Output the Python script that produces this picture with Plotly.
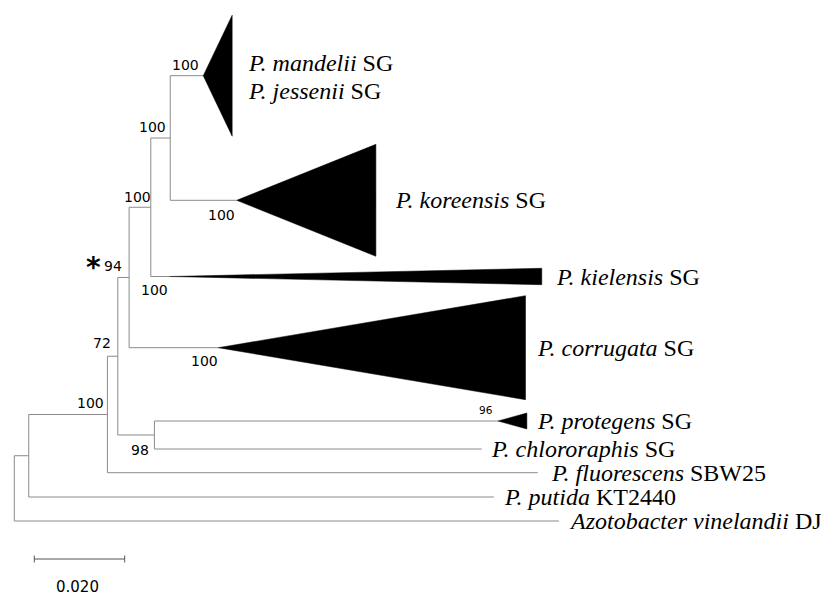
import plotly.graph_objects as go

# ---------------- data ----------------
# tree topology: parent -> child with branch length (substitutions/site)
edge_parent = ["root", "root", "A", "A", "B", "B", "C", "C", "D", "D", "E", "E", "F", "F", "G", "G"]
edge_child = ["A", "azotobacter", "B", "putida", "C", "fluorescens", "E", "D",
              "protegens", "chlororaphis", "F", "corrugata", "G", "kielensis", "mandelii", "koreensis"]
edge_length = [0.0032, 0.1205, 0.0174, 0.1029, 0.0023, 0.0952, 0.0025, 0.0081,
               0.0760, 0.0724, 0.0048, 0.0197, 0.0043, 0.0042, 0.0073, 0.0147]

# leaves in display order (vertical coordinate of each leaf / collapsed clade)
leaf_names = ["mandelii", "koreensis", "kielensis", "corrugata", "protegens",
              "chlororaphis", "fluorescens", "putida", "azotobacter"]
leaf_y = [75.7, 200.3, 276.5, 347.7, 421.0, 449.0, 472.7, 497.0, 521.0]

# collapsed clades (triangles): depth of clade and half vertical span
clade_leaf = ["mandelii", "koreensis", "kielensis", "corrugata", "protegens"]
clade_depth = [0.0064, 0.0308, 0.0823, 0.0680, 0.0064]
clade_halfspan = [60.5, 56.0, 8.2, 52.0, 8.0]

leaf_labels = {
    "mandelii": ["<i>P. mandelii</i> SG", "<i>P. jessenii</i> SG"],
    "koreensis": ["<i>P. koreensis</i> SG"],
    "kielensis": ["<i>P. kielensis</i> SG"],
    "corrugata": ["<i>P. corrugata</i> SG"],
    "protegens": ["<i>P. protegens</i> SG"],
    "chlororaphis": ["<i>P. chlororaphis</i> SG"],
    "fluorescens": ["<i>P. fluorescens</i> SBW25"],
    "putida": ["<i>P. putida</i> KT2440"],
    "azotobacter": ["<i>Azotobacter vinelandii</i> DJ"],
}

# bootstrap support values
support_node = ["mandelii", "G", "F", "koreensis", "E", "kielensis", "C", "corrugata", "B", "D", "protegens"]
support_value = ["100", "100", "100", "100", "94", "100", "72", "100", "100", "98", "96"]

scale_length = 0.020
scale_label = "0.020"

# ---------------- layout helpers ----------------
PX_PER_UNIT = 4520.0
ROOT_PX = 14.3
W, H = 821, 595

children = {}
blen = {}
for p, c, l in zip(edge_parent, edge_child, edge_length):
    children.setdefault(p, []).append(c)
    blen[c] = l

xpos = {"root": 0.0}
def set_x(n):
    for c in children.get(n, []):
        xpos[c] = xpos[n] + blen[c]
        set_x(c)
set_x("root")

ypos = dict(zip(leaf_names, leaf_y))
def set_y(n):
    if n in ypos:
        return ypos[n]
    ys = [set_y(c) for c in children[n]]
    ypos[n] = sum(ys) / len(ys)
    return ypos[n]
set_y("root")

# tree line segments
lx, ly = [], []
for n, ch in children.items():
    ys = [ypos[c] for c in ch]
    lx += [xpos[n], xpos[n], None]
    ly += [min(ys), max(ys), None]
    for c in ch:
        lx += [xpos[n], xpos[c], None]
        ly += [ypos[c], ypos[c], None]

fig = go.Figure()
fig.add_trace(go.Scatter(x=lx, y=ly, mode="lines",
                         line=dict(color="#8a8a8a", width=1), hoverinfo="skip", showlegend=False))

# triangles
ends = {}
for name, d, hs in zip(clade_leaf, clade_depth, clade_halfspan):
    x0 = xpos[name]
    y0 = ypos[name]
    x1 = x0 + d
    ends[name] = x1
    fig.add_trace(go.Scatter(x=[x0, x1, x1, x0], y=[y0, y0 - hs, y0 + hs, y0],
                             mode="lines", fill="toself", fillcolor="black",
                             line=dict(color="black", width=0.5), hoverinfo="skip", showlegend=False))

# leaf labels
label_shift = {"mandelii": 14, "koreensis": 17, "kielensis": 12, "corrugata": 9, "protegens": 8,
               "chlororaphis": 7, "fluorescens": 11, "putida": 8, "azotobacter": 8}
serif = "Times New Roman, Liberation Serif, serif"
for name in leaf_names:
    xe = ends.get(name, xpos[name])
    lines = leaf_labels[name]
    if len(lines) == 2:
        offs = [13, -15]
    else:
        offs = [0]
    for t, o in zip(lines, offs):
        fig.add_annotation(x=xe, y=ypos[name], text=t, showarrow=False,
                           xanchor="left", yanchor="middle", xshift=label_shift[name], yshift=o,
                           font=dict(family=serif, size=24, color="black"))

# support labels (offsets in px relative to node)
sup_off = {"mandelii": (-17.6, 10.7), "G": (-17.3, 11.3), "F": (-13.3, 10.3), "koreensis": (-15, -14.7),
           "E": (-16, 11.3), "kielensis": (-15, -13.5), "C": (-16, 13), "corrugata": (-14, -13.3),
           "B": (-16.6, 11.7), "D": (-14.3, -15), "protegens": (-12, 11)}
for n, v in zip(support_node, support_value):
    dx, dy = sup_off[n]
    fig.add_annotation(x=xpos[n], y=ypos[n], text=v, showarrow=False,
                       xanchor="center", yanchor="middle", xshift=dx, yshift=dy,
                       font=dict(family="DejaVu Sans", size=10.5 if v == "96" else 14, color="black"))
# asterisk at node E
fig.add_annotation(x=xpos["E"], y=ypos["E"], text="<b>*</b>", showarrow=False,
                   xanchor="center", yanchor="middle", xshift=-36, yshift=10,
                   font=dict(family="DejaVu Sans", size=28, color="black"))

# scale bar
sb_x0 = (34.3 - ROOT_PX) / PX_PER_UNIT
sb_x1 = sb_x0 + scale_length
sb_y = 559
fig.add_trace(go.Scatter(x=[sb_x0, sb_x1, None, sb_x0, sb_x0, None, sb_x1, sb_x1],
                         y=[sb_y, sb_y, None, sb_y - 3.5, sb_y + 3.5, None, sb_y - 3.5, sb_y + 3.5],
                         mode="lines", line=dict(color="#555555", width=1), hoverinfo="skip", showlegend=False))
fig.add_annotation(x=(sb_x0 + sb_x1) / 2, y=587, text=scale_label, showarrow=False,
                   xanchor="center", yanchor="middle", xshift=-2,
                   font=dict(family="DejaVu Sans", size=15, color="black"))

fig.update_layout(width=W, height=H, margin=dict(l=0, r=0, t=0, b=0),
                  paper_bgcolor="white", plot_bgcolor="white", showlegend=False)
fig.update_xaxes(range=[-ROOT_PX / PX_PER_UNIT, (W - ROOT_PX) / PX_PER_UNIT], visible=False, fixedrange=True)
fig.update_yaxes(range=[H, 0], visible=False, fixedrange=True)

fig.write_html("out.html", config={"displayModeBar": False},
               post_script="document.body.style.margin='0';document.body.style.overflow='hidden';")
